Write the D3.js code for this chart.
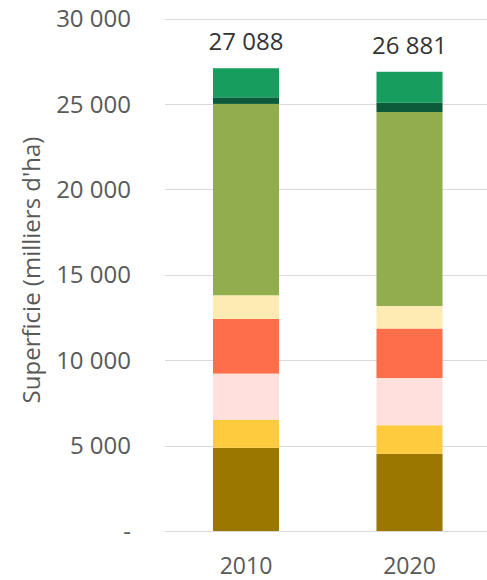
<!DOCTYPE html>
<html>
<head>
<meta charset="utf-8">
<script src="https://cdn.jsdelivr.net/npm/d3@7/dist/d3.min.js"></script>
<style>
  html, body { margin: 0; padding: 0; background: #fff; }
  svg { display: block; font-family: "Open Sans", "Noto Sans", sans-serif; }
</style>
</head>
<body>
<svg id="chart" width="487" height="580"></svg>
<script>
const years = ["2010", "2020"];
const seriesNames = ["s1", "s2", "s3", "s4", "s5", "s6", "s7", "s8"];
const s1 = [4869, 4525];
const s2 = [1645, 1666];
const s3 = [2700, 2767];
const s4 = [3200, 2896];
const s5 = [1386, 1319];
const s6 = [11200, 11351];
const s7 = [386, 540];
const s8 = [1702, 1817];
const totals = [27088, 26881];
const totalLabels = ["27 088", "26 881"];
const yTicks = [0, 5000, 10000, 15000, 20000, 25000, 30000];
const yTickLabels = ["-", "5 000", "10 000", "15 000", "20 000", "25 000", "30 000"];
const colors = ["#9c7700", "#fecb3e", "#ffe0dc", "#ff6e4a", "#feebb3", "#91ad4d", "#0d5a3a", "#179e5f"];

const seriesValues = [s1, s2, s3, s4, s5, s6, s7, s8];
const table = years.map((yr, i) => {
  const row = { year: yr };
  seriesNames.forEach((n, k) => row[n] = seriesValues[k][i]);
  return row;
});

const svg = d3.select("#chart");
const y = d3.scaleLinear().domain([0, 30000]).range([531, 18.5]);
const x = d3.scaleBand().domain(years).range([164.25, 491.25]).paddingInner(0.596).paddingOuter(0.298);

// gridlines
svg.append("g").selectAll("line").data(yTicks).join("line")
  .attr("x1", 165).attr("x2", 487)
  .attr("y1", d => Math.round(y(d)) + 0.5).attr("y2", d => Math.round(y(d)) + 0.5)
  .attr("stroke", "#d9d9d9").attr("stroke-width", 1);

// y tick labels
svg.append("g").selectAll("text").data(yTicks).join("text")
  .attr("x", 131).attr("y", d => y(d))
  .attr("dy", "0.36em")
  .attr("text-anchor", "end")
  .attr("font-size", 24)
  .attr("fill", "#595959")
  .text((d, i) => yTickLabels[i]);

// axis title
svg.append("text")
  .attr("transform", "translate(32,270) rotate(-90)")
  .attr("text-anchor", "middle")
  .attr("dy", "0.35em")
  .attr("font-size", 24)
  .attr("fill", "#595959")
  .text("Superficie (milliers d'ha)");

// stacked bars
const stack = d3.stack().keys(seriesNames)(table);
svg.append("g").selectAll("g").data(stack).join("g")
  .attr("fill", (d, i) => colors[i])
  .selectAll("rect").data(d => d).join("rect")
  .attr("x", d => x(d.data.year))
  .attr("width", x.bandwidth())
  .attr("y", d => y(d[1]))
  .attr("height", d => y(d[0]) - y(d[1]));

// total labels
svg.append("g").selectAll("text").data(years).join("text")
  .attr("x", d => x(d) + x.bandwidth() / 2)
  .attr("y", (d, i) => y(totals[i]) - 18)
  .attr("text-anchor", "middle")
  .attr("font-size", 24)
  .attr("fill", "#333")
  .text((d, i) => totalLabels[i]);

// x labels
svg.append("g").selectAll("text").data(years).join("text")
  .attr("x", d => x(d) + x.bandwidth() / 2)
  .attr("y", 574)
  .attr("text-anchor", "middle")
  .attr("font-size", 23)
  .attr("fill", "#595959")
  .text(d => d);
</script>
</body>
</html>
